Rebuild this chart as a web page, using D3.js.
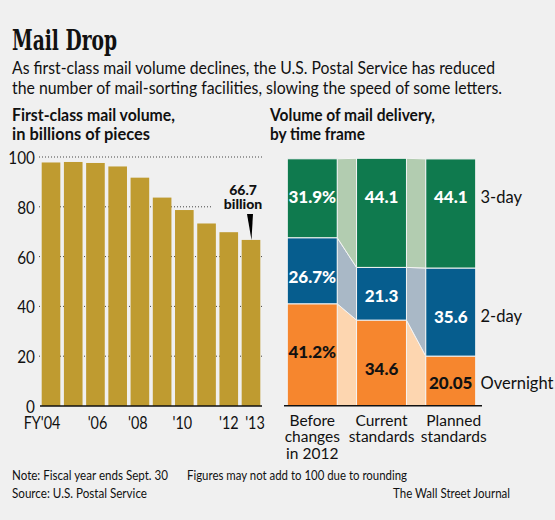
<!DOCTYPE html>
<html><head><meta charset="utf-8">
<script src="https://cdn.jsdelivr.net/npm/d3@7"></script>
<style>
html,body{margin:0;padding:0;background:#f0f0f0;}
svg{display:block;}
text{font-family:Lato,"Noto Sans",sans-serif;fill:#111;}
</style></head><body>
<svg id="c" width="555" height="520"></svg>
<script>
// ---- data ----
const years = ["FY'04","'05","'06","'07","'08","'09","'10","'11","'12","'13"];
const yearTickLabels = ["FY'04","'06","'08","'10","'12","'13"];
const volume = [97.8, 98.0, 97.6, 96.2, 91.7, 83.7, 78.7, 73.3, 69.8, 66.7];
const volumeTicks = [0, 20, 40, 60, 80, 100];

const frames = ["Before changes in 2012", "Current standards", "Planned standards"];
const frameLines = [["Before","changes","in 2012"],["Current","standards"],["Planned","standards"]];
const speeds = ["Overnight", "2-day", "3-day"];
const overnight = [41.2, 34.6, 20.05];
const twoDay = [26.7, 21.3, 35.6];
const threeDay = [31.9, 44.1, 44.1];
const overnightLabels = ["41.2%", "34.6", "20.05"];
const twoDayLabels = ["26.7%", "21.3", "35.6"];
const threeDayLabels = ["31.9%", "44.1", "44.1"];

// ---- setup ----
const svg = d3.select("#c");
svg.append("rect").attr("width",555).attr("height",520).attr("fill","#f0f0f0");

// squeeze helper: narrow a text to a fraction of its natural width
function squeeze(sel, f){
  sel.each(function(){ const w = this.getComputedTextLength(); d3.select(this).attr("textLength", w*f).attr("lengthAdjust","spacingAndGlyphs"); });
}

// titles
svg.append("text").attr("x",12).attr("y",50)
  .style("font-family","'DejaVu Serif',serif").style("font-weight","bold").style("font-size","27px")
  .attr("textLength",105).attr("lengthAdjust","spacingAndGlyphs")
  .text("Mail Drop");
const sub = ["As first-class mail volume declines, the U.S. Postal Service has reduced",
             "the number of mail-sorting facilities, slowing the speed of some letters."];
sub.forEach((s,i)=>svg.append("text").attr("x",12).attr("y",74+i*19.8)
  .style("font-size","17.5px").attr("textLength",i?490:483).attr("lengthAdjust","spacingAndGlyphs").text(s));

function heading(x, lines, widths){
  lines.forEach((s,i)=>svg.append("text").attr("x",x).attr("y",121+i*18.5)
    .style("font-size","16.5px").style("font-weight","bold")
    .attr("textLength",widths[i]).attr("lengthAdjust","spacingAndGlyphs").text(s));
}
heading(12, ["First-class mail volume,","in billions of pieces"], [163,138]);
heading(270, ["Volume of mail delivery,","by time frame"], [165,95]);

// ---- left chart ----
const x = d3.scaleBand().domain(years).range([41.7, 260.3]).paddingInner(0.162).paddingOuter(0);
const y = d3.scaleLinear().domain([0,100]).range([406, 157]);

const left = svg.append("g");
left.selectAll("line.grid").data(volumeTicks.filter(d=>d>0)).join("line")
  .attr("x1",39).attr("x2",263).attr("y1",d=>y(d)).attr("y2",d=>y(d))
  .attr("stroke","#444").attr("stroke-width",1).attr("stroke-dasharray","1,2");

// y-axis labels
const yAxis = d3.axisLeft(y).tickValues(volumeTicks).tickSize(0).tickPadding(0);
left.append("g").attr("transform","translate(35,0)").call(yAxis)
  .call(g=>g.select(".domain").remove())
  .call(g=>{ const t = g.selectAll("text").style("font-family","Lato,sans-serif").style("font-size","18px").attr("fill","#222").attr("dy","0.36em"); squeeze(t,0.85); });

// bars
left.selectAll("rect.bar").data(volume).join("rect")
  .attr("x",(d,i)=>x(years[i])).attr("width",x.bandwidth())
  .attr("y",d=>y(d)).attr("height",d=>y(0)-y(d)).attr("fill","#bf9b30");

// label box + annotation
const lastI = years.length-1;
const lx = x(years[lastI]) + x.bandwidth()/2;
left.append("rect").attr("x",213).attr("y",178).attr("width",52).attr("height",34).attr("fill","#f0f0f0");
["66.7","billion"].forEach((s,i)=>left.append("text").attr("x",243).attr("y",195+i*14)
  .attr("text-anchor","middle").style("font-size","14px").style("font-weight","900").text(s));
left.append("path")
  .attr("d",`M${lx-4},${y(volume[lastI])-26} L${lx+2},${y(volume[lastI])-26} L${lx+0.5},${y(volume[lastI])} Z`)
  .attr("fill","#000");

// baseline
left.append("line").attr("x1",40).attr("x2",262).attr("y1",y(0)).attr("y2",y(0)).attr("stroke","#111").attr("stroke-width",1.5);

// x-axis labels
const xShift = {"FY'04":-9, "'06":2, "'08":-2, "'10":-2, "'12":0, "'13":4};
const xAxis = d3.axisBottom(x).tickValues(yearTickLabels).tickSize(0).tickPadding(0);
left.append("g").attr("transform",`translate(0,${y(0)})`).call(xAxis)
  .call(g=>g.select(".domain").remove())
  .call(g=>{ const t = g.selectAll("text").style("font-family","Lato,sans-serif").style("font-size","18px").attr("fill","#222")
      .attr("y",0).attr("dy","1.3em").attr("dx",d=>xShift[d]||0); squeeze(t,0.8); });

// ---- right chart ----
const xr = d3.scaleBand().domain(frames).range([287.3, 475.7]).paddingInner(0.279).paddingOuter(0);
const yr = d3.scaleLinear().domain([0,100]).range([405.7, 158.3]);
const series = [overnight, twoDay, threeDay];
const seriesLabels = [overnightLabels, twoDayLabels, threeDayLabels];
const colors = ["#f6862e", "#065d8e", "#0f7a4e"];
const lightColors = ["#fdd6b0", "#a9b8c6", "#b2ccb0"];
const textColors = ["#111", "#fff", "#fff"];

const stacks = frames.map((f,i)=>{
  let acc = 0;
  return series.map((s,k)=>{ const y0 = acc; acc += s[i]; return {k, i, y0, y1: acc, v: s[i], label: seriesLabels[k][i]}; });
});
const right = svg.append("g");
for (let i=0;i<frames.length-1;i++){
  const x0 = xr(frames[i]) + xr.bandwidth(), x1 = xr(frames[i+1]);
  series.forEach((s,k)=>{
    const a = stacks[i][k], b = stacks[i+1][k];
    right.append("path")
      .attr("d",`M${x0},${yr(a.y1)} L${x1},${yr(b.y1)} L${x1},${yr(b.y0)} L${x0},${yr(a.y0)} Z`)
      .attr("fill",lightColors[k]).attr("stroke","#f4f4f4").attr("stroke-width",1);
  });
}
stacks.forEach(st=>st.forEach(d=>{
  right.append("rect").attr("x",xr(frames[d.i])).attr("width",xr.bandwidth())
    .attr("y",yr(d.y1)).attr("height",yr(d.y0)-yr(d.y1))
    .attr("fill",colors[d.k]).attr("stroke","#f4f4f4").attr("stroke-width",1);
}));
const labelY = [[351.7,369.3,383.3],[276.7,296,316.7],[196.7,196.7,196.7]];
stacks.forEach(st=>st.forEach(d=>{
  right.append("text").attr("x",xr(frames[d.i])+xr.bandwidth()/2).attr("y",labelY[d.k][d.i]).attr("dy","0.36em")
    .attr("text-anchor","middle").style("font-size","17px").style("font-weight","900")
    .style("fill",textColors[d.k]).text(d.label);
}));
const seriesLabelY = [383.3, 315.7, 196.7];
speeds.forEach((s,k)=>right.append("text").attr("x",480.5).attr("y",seriesLabelY[k]).attr("dy","0.36em")
  .style("font-size","16.5px").text(s));
right.append("line").attr("x1",284).attr("x2",482).attr("y1",yr(0)).attr("y2",yr(0)).attr("stroke","#111").attr("stroke-width",1.5);
frames.forEach((f,i)=>{
  const cx = xr(f)+xr.bandwidth()/2 + (i===2?3:0);
  frameLines[i].forEach((s,j)=>right.append("text").attr("x",cx).attr("y",420+j*16.8).attr("dy","0.36em")
    .attr("text-anchor","middle").style("font-size","15.5px").text(s));
});

// ---- footer ----
const foot = [["Note: Fiscal year ends Sept. 30",12,475,"start",156],
              ["Figures may not add to 100 due to rounding",187,475,"start",220],
              ["Source: U.S. Postal Service",12,493,"start",135],
              ["The Wall Street Journal",510,493,"end",117]];
foot.forEach(([s,fx,fy,anchor,w])=>svg.append("text").attr("x",fx).attr("y",fy).attr("dy","0.36em")
  .attr("text-anchor",anchor).style("font-size","14px").attr("fill","#222")
  .attr("textLength",w).attr("lengthAdjust","spacingAndGlyphs").text(s));
</script>
</body></html>
